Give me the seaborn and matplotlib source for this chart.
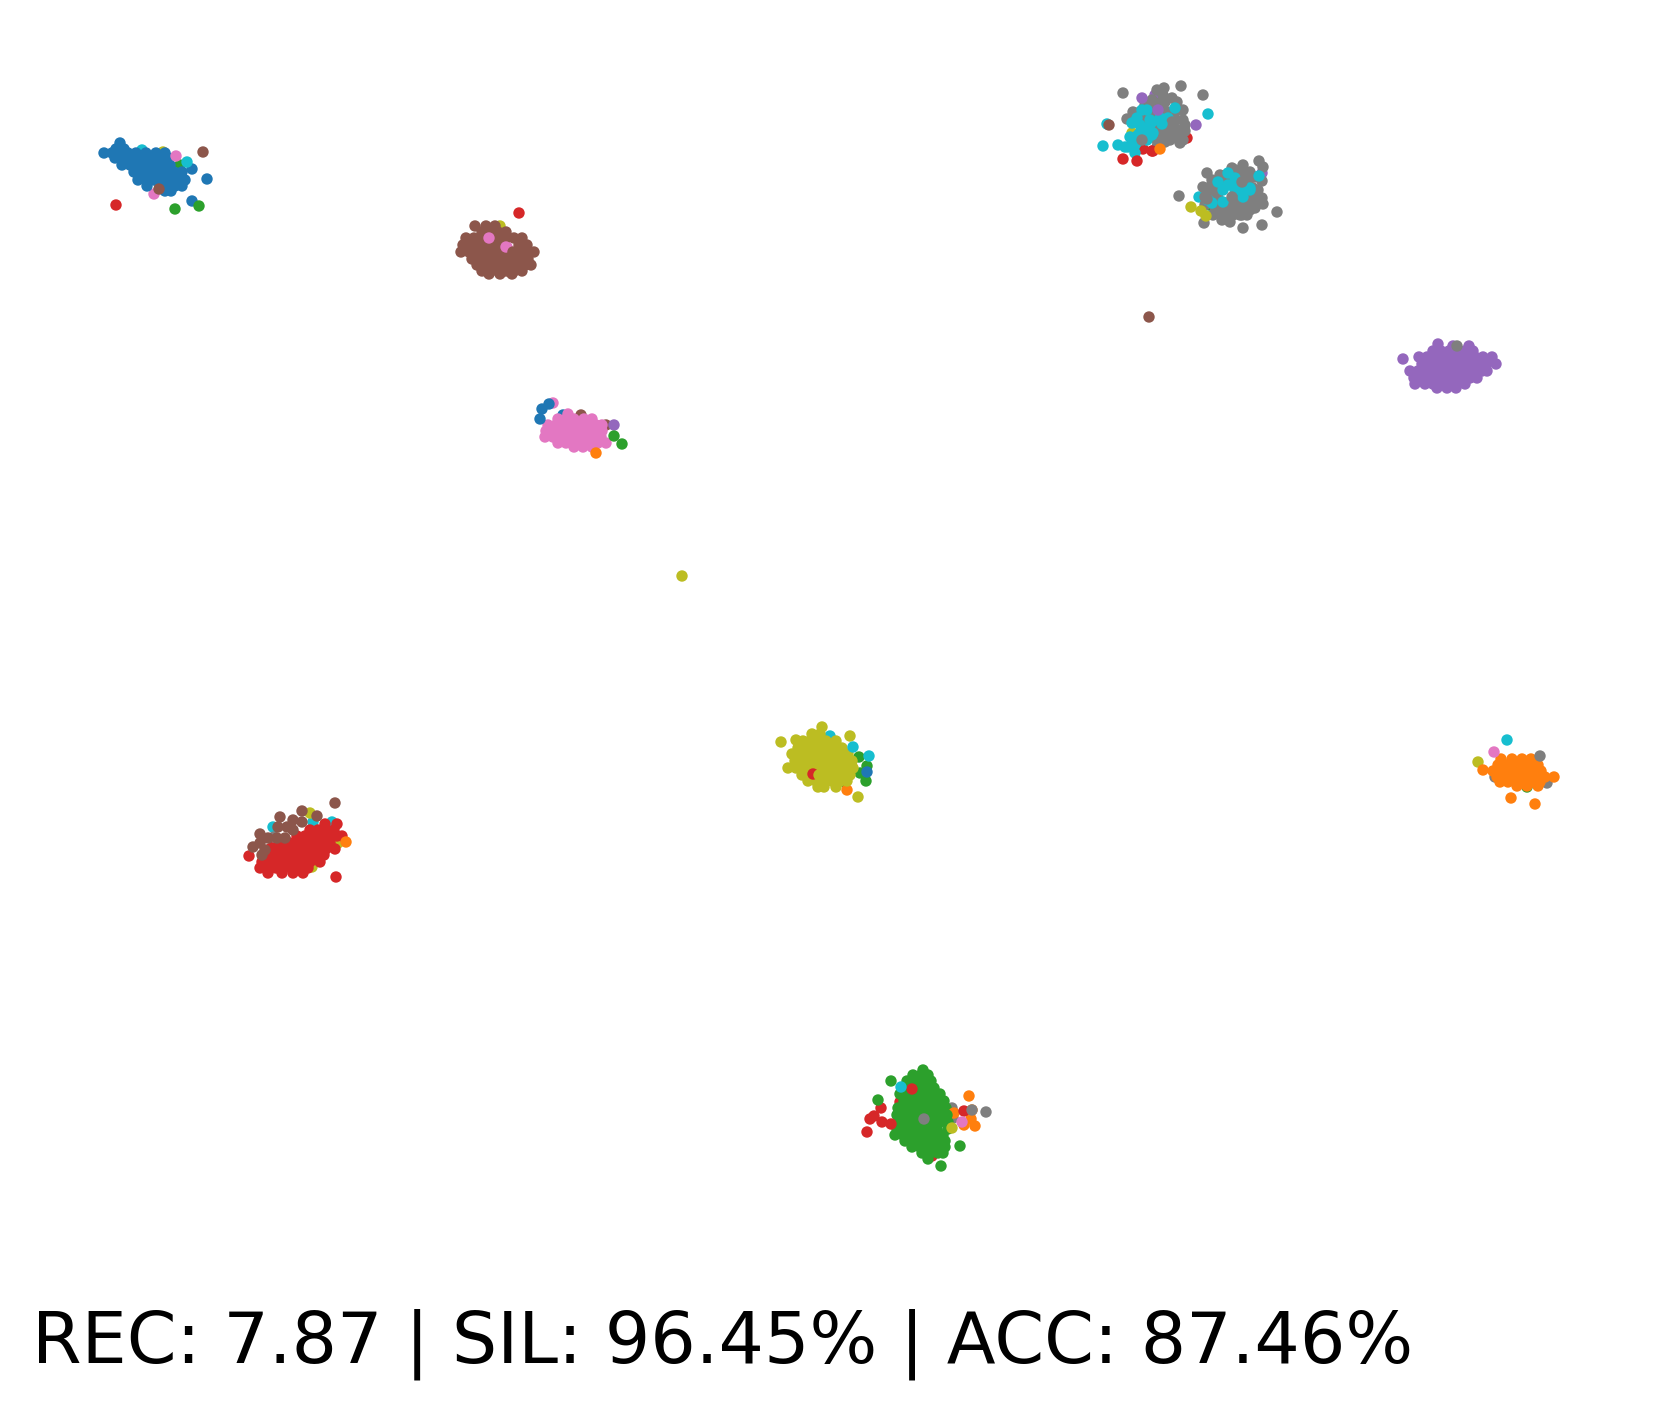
import pandas as pd
import matplotlib
matplotlib.use('Agg')
import matplotlib.pyplot as plt
import seaborn as sns

# class ids follow tab10: 0 blue, 1 orange, 2 green, 3 red, 4 purple,
# 5 brown, 6 pink, 7 gray, 8 olive, 9 cyan
SCORE_TEXT = 'REC: 7.87 | SIL: 96.45% | ACC: 87.46%'

# dense clusters (one y, many x)
blue_y = [143, 149, 153, 158, 165, 172, 180, 186, 191]
blue_x = [[120], [116, 124], [104, 112, 120, 128, 136, 146, 156, 165],
          [115, 123, 131, 139, 147, 155, 163, 168], [122, 130, 138, 146, 154, 162, 170],
          [134, 142, 150, 158, 166, 174, 182], [138, 146, 154, 162, 170, 178, 185],
          [147, 160, 168, 175, 182], [165, 171]]

brown_y = [226, 232, 238, 245, 252, 259, 265, 271, 274]
brown_x = [[475, 486, 495], [482, 490, 498, 506], [466, 474, 482, 498, 506, 514, 522],
           [463, 471, 479, 487, 495, 503, 519, 527],
           [461, 469, 477, 485, 493, 501, 509, 517, 525, 534],
           [472, 480, 488, 496, 504, 512, 520, 528],
           [477, 485, 493, 501, 509, 517, 525, 531],
           [482, 490, 498, 506, 514, 522], [489, 500, 512]]

pink_y = [414, 419, 425, 431, 437, 443, 447]
pink_x = [[568], [558, 566, 574, 584, 592], [548, 556, 564, 572, 580, 588, 596, 602],
          [546, 554, 562, 570, 578, 586, 594, 602], [545, 553, 561, 569, 577, 585, 593, 601],
          [558, 566, 574, 582, 590, 598, 606], [574, 583, 592]]

purple_y = [344, 346, 351, 357, 359, 364, 371, 378, 384, 388]
purple_x = [[1438], [1453, 1469], [1433, 1441, 1449, 1457, 1465, 1473],
            [1419, 1427, 1435, 1443, 1451, 1459, 1467, 1475, 1483, 1492], [1403],
            [1422, 1430, 1438, 1446, 1454, 1462, 1470, 1478, 1486, 1496],
            [1410, 1418, 1426, 1434, 1442, 1450, 1458, 1466, 1474, 1482, 1487],
            [1414, 1422, 1430, 1438, 1446, 1454, 1462, 1470, 1477],
            [1415, 1425, 1433, 1441, 1449, 1457, 1465], [1437, 1447, 1456]]

orange_y = [759, 765, 771, 777, 782, 786]
orange_x = [[1501, 1512, 1522, 1531], [1498, 1506, 1514, 1522, 1530, 1538],
            [1493, 1501, 1509, 1517, 1525, 1533, 1541],
            [1497, 1505, 1513, 1521, 1529, 1537, 1545, 1554],
            [1500, 1508, 1516, 1524, 1532, 1540], [1517, 1527, 1538]]

olive_y = [734, 741, 748, 754, 761, 768, 775, 781, 787]
olive_x = [[812, 820], [803, 810, 818, 826, 836], [798, 805, 813, 821, 829, 837, 842],
           [792, 800, 808, 816, 824, 832, 840, 848],
           [795, 803, 811, 819, 827, 835, 843, 852],
           [788, 796, 804, 812, 820, 828, 836, 844, 853],
           [802, 810, 818, 826, 834, 842, 850], [808, 816, 824, 832, 840, 847],
           [818, 824, 836]]

green_y = [1070, 1075, 1081, 1088, 1094, 1101, 1108, 1115, 1122, 1129, 1135, 1141, 1147, 1153, 1159]
green_x = [[923], [913, 921, 928], [907, 915, 923, 931], [910, 918, 926, 934],
           [900, 908, 916, 924, 932, 940], [904, 912, 920, 928, 936, 944],
           [898, 906, 914, 922, 930, 938, 946], [897, 905, 913, 921, 929, 937, 942],
           [900, 908, 916, 924, 932, 940, 948], [897, 905, 913, 921, 929, 937, 948],
           [895, 903, 911, 919, 927, 935, 943], [905, 913, 921, 929, 937, 945],
           [912, 920, 928, 936, 945], [922, 930, 938, 943], [928]]

red_y = [824, 830, 836, 843, 849, 855, 862, 868, 873]
red_x = [[325, 337], [310, 318, 326, 334], [297, 305, 313, 321, 329, 337, 342],
         [274, 282, 290, 298, 306, 314, 322, 330], [270, 278, 286, 294, 302, 310, 318, 326, 335],
         [268, 276, 284, 292, 300, 308, 316, 324],
         [262, 270, 278, 286, 294, 302, 310, 320],
         [260, 268, 276, 284, 292, 300, 308], [268, 282, 293, 303]]

# the two gray/cyan clusters in the top right
gray_x = [1157, 1172, 1163, 1152, 1145, 1133, 1127, 1140, 1162, 1183, 1177, 1165, 1176, 1180,
          1157, 1185, 1177, 1168, 1162, 1172, 1165, 1180, 1157, 1170, 1150, 1155, 1140,
          1145, 1152, 1160, 1168, 1175, 1183,
          1207, 1203, 1218, 1232, 1243, 1250, 1255, 1262, 1220, 1212, 1262, 1263, 1255, 1247,
          1240, 1230, 1222, 1213, 1227, 1237, 1247, 1253, 1215, 1222, 1205, 1233, 1257, 1240,
          1253, 1250, 1215, 1212, 1225, 1235, 1242, 1226, 1248, 1258, 1245, 1235, 1225, 1232,
          1215, 1210, 1238, 1250, 1242, 1220, 1228, 1205, 1210, 1255, 1246]
gray_y = [90, 98, 95, 100, 105, 112, 119, 120, 110, 110, 102, 102, 120, 143,
          147, 131, 130, 130, 135, 138, 142, 137, 140, 123, 108, 103, 112,
          118, 112, 103, 112, 112, 120,
          190, 187, 198, 168, 165, 172, 177, 181, 175, 180, 198, 204, 208, 215,
          215, 222, 220, 215, 210, 207, 203, 197, 207, 212, 205, 215, 200, 202,
          188, 177, 190, 197, 182, 170, 175, 175, 182, 190, 208, 212, 203, 207,
          212, 200, 198, 210, 215, 214, 216, 197, 187, 205, 196]
cyan_x = [1132, 1130, 1128, 1135, 1140, 1142, 1147, 1137, 1137, 1125, 1147,
          1140, 1148, 1155, 1160, 1168, 1175, 1138, 1145, 1135, 1152,
          1223, 1235, 1240, 1250, 1233, 1223, 1243, 1218, 1208, 1228,
          1228, 1235, 1243, 1250, 1238, 1212]
cyan_y = [123, 137, 147, 153, 133, 110, 110, 118, 142, 147, 140,
          125, 128, 125, 118, 118, 108, 135, 135, 145, 135,
          190, 178, 188, 188, 185, 202, 197, 182, 200, 173,
          185, 190, 190, 190, 183, 203]

# stray points drawn below the dense clusters
under_x = [180, 142, 163, 192, 154, 507, 500, 563, 581, 606, 553, 592, 1547, 1495, 1527,
           830, 859, 867, 860, 866, 845, 847, 898, 900, 928, 932, 945, 952, 953, 972,
           971, 964, 975, 273, 313, 332, 310, 338, 312, 1107, 1132, 1155, 1187, 1143, 1153,
           1262, 1199, 1213, 1209]
under_y = [165, 150, 152, 169, 194, 247, 226, 415, 415, 425, 403, 427, 783, 777, 787,
           736, 757, 766, 773, 781, 782, 790, 1124, 1102, 1089, 1156, 1115, 1108, 1118, 1110,
           1119, 1125, 1126, 827, 822, 822, 813, 843, 867, 124, 133, 95, 138, 149, 151,
           173, 197, 184, 205]
under_label = [2, 9, 8, 0, 6, 6, 8, 0, 5, 5, 6, 1, 7, 7, 2,
               9, 2, 2, 2, 2, 2, 1, 3, 3, 3, 3, 1, 7, 7, 1,
               1, 1, 1, 9, 9, 9, 8, 8, 8, 9, 8, 4, 3, 3, 3,
               4, 9, 1, 2]

# stray points drawn above the dense clusters
top_x = [176, 203, 187, 207, 192, 116, 175, 199, 159, 519, 489, 506, 513, 540, 542, 549, 614, 622,
         614, 596, 1457, 1478, 1494, 1507, 1540, 1483, 1511, 1535, 781, 796, 822, 850,
         858, 853, 869, 867, 813, 819, 867, 870, 874, 881, 882, 891, 912, 901, 878, 891, 960,
         941, 969, 954, 964, 972, 986, 924, 962, 952, 947, 335, 336, 346, 249, 274, 280, 302,
         317, 260, 253, 262, 268, 278, 287, 293, 302, 285, 260, 293, 277, 265,
         1165, 1172, 1178, 1170, 1160, 1175, 1185, 1183, 1165, 1158,
         1123, 1181, 1164, 1203,
         1142, 1196, 1158, 1208, 1103, 1118, 1109, 1123, 1137, 1152, 1160, 1150, 1162, 1153,
         1142, 1207, 1179, 1277, 1262, 1243, 1204, 1259, 1263, 1259, 1191, 1201, 1206, 1242,
         1232, 1207, 1149, 682]
top_y = [156, 152, 162, 179, 201, 205, 209, 206, 189, 213, 238, 247, 252, 419, 409, 404, 425, 444,
         436, 453, 346, 762, 752, 740, 756, 770, 798, 804, 742, 740, 727, 736,
         797, 747, 756, 772, 774, 775, 1132, 1119, 1116, 1108, 1122, 1124, 1089, 1087, 1100, 1081, 1146,
         1166, 1096, 1113, 1111, 1110, 1112, 1119, 1122, 1128, 1115, 803, 877, 842, 856, 837, 817, 811,
         816, 834, 847, 855, 838, 827, 827, 820, 822, 838, 843, 830, 838, 850,
         128, 122, 132, 140, 130, 135, 125, 140, 135, 145,
         93, 86, 88, 95,
         98, 125, 110, 114, 146, 145, 125, 159, 161, 151, 149, 120, 124, 133,
         140, 173, 196, 212, 225, 228, 223, 161, 167, 176, 207, 211, 216, 182,
         197, 199, 317, 576]
top_label = [6, 5, 9, 0, 0, 3, 2, 2, 5, 3, 6, 6, 5, 0, 0, 0, 4, 2,
             2, 1, 7, 8, 6, 9, 7, 1, 1, 1, 8, 8, 8, 8,
             8, 9, 9, 0, 3, 8, 3, 3, 3, 3, 3, 3, 3, 9, 2, 2, 2,
             2, 1, 1, 3, 7, 7, 7, 6, 8, 2, 5, 3, 1, 3, 7, 5, 5,
             5, 5, 5, 5, 5, 5, 5, 5, 5, 5, 5, 5, 5, 5,
             7, 7, 7, 7, 7, 7, 7, 7, 7, 7,
             7, 7, 7, 7,
             4, 4, 4, 9, 9, 9, 5, 3, 3, 3, 1, 9, 9, 9,
             7, 7, 7, 7, 7, 7, 7, 7, 7, 9, 8, 8, 8, 7,
             7, 7, 5, 8]


def expand(rows_y, rows_x, label):
    rows = []
    for y, xs in zip(rows_y, rows_x):
        for x in xs:
            rows.append({'x': x, 'y': y, 'label': label})
    return pd.DataFrame(rows)


frames = [pd.DataFrame({'x': under_x, 'y': under_y, 'label': under_label})]
frames.append(expand(blue_y, blue_x, 0))
frames.append(expand(orange_y, orange_x, 1))
frames.append(expand(green_y, green_x, 2))
frames.append(expand(red_y, red_x, 3))
frames.append(expand(purple_y, purple_x, 4))
frames.append(expand(brown_y, brown_x, 5))
frames.append(expand(pink_y, pink_x, 6))
frames.append(expand(olive_y, olive_x, 8))
frames.append(pd.DataFrame({'x': gray_x, 'y': gray_y, 'label': 7}))
frames.append(pd.DataFrame({'x': cyan_x, 'y': cyan_y, 'label': 9}))
frames.append(pd.DataFrame({'x': top_x, 'y': top_y, 'label': top_label}))
df = pd.concat(frames, ignore_index=True)

fig = plt.figure(figsize=(5.53, 4.71), dpi=300)
ax = fig.add_axes([0, 0, 1, 1])
sns.scatterplot(data=df, x='x', y='y', hue='label', palette=sns.color_palette('tab10', 10),
                s=7.5, linewidth=0, legend=False, ax=ax)
ax.set_xlim(0, 1659)
ax.set_ylim(1413, 0)
ax.axis('off')

fig.text(32 / 1659, 1 - 1363 / 1413, SCORE_TEXT, fontsize=17.15, va='baseline', ha='left')

plt.savefig('out.png', dpi=300)
